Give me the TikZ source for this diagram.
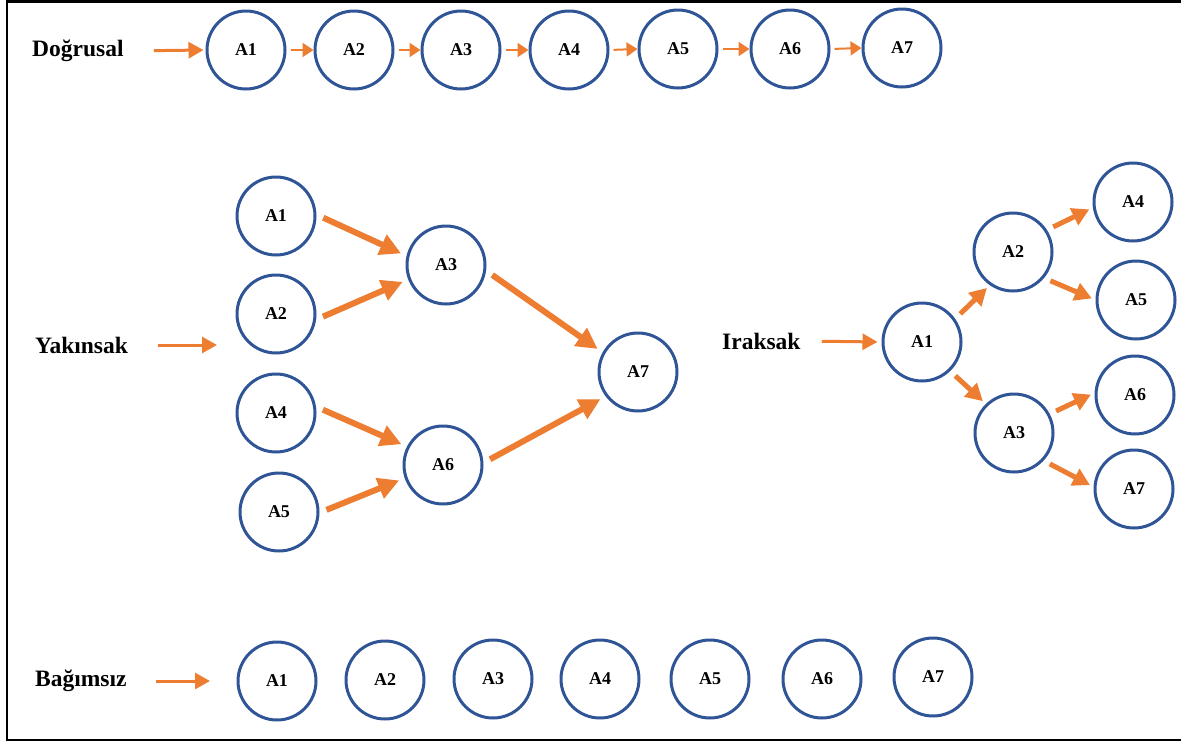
\documentclass[tikz,border=0pt]{standalone}
\usepackage{fontspec}
\setmainfont{Liberation Serif}
\usetikzlibrary{arrows.meta}
\definecolor{actblue}{HTML}{2F5597}
\definecolor{floworange}{HTML}{ED7D31}

\begin{document}
\begin{tikzpicture}[x=1pt,y=-1pt,
	act/.style={circle, draw=actblue, line width=3pt, minimum size=78pt, inner sep=0pt, font=\fontsize{18}{20}\selectfont\bfseries},
	kind/.style={anchor=west, inner sep=0pt, font=\fontsize{23.5}{26}\selectfont\bfseries},
	leadarrow/.style={color=floworange, line width=3pt, -{Triangle[length=15pt,width=16pt]}},
	smallarrow/.style={color=floworange, line width=2pt, -{Triangle[length=11pt,width=14pt]}, shorten <=4pt},
	bigarrow/.style={color=floworange, line width=6pt, -{Triangle[length=21pt,width=21pt]}, shorten <=7.5pt, shorten >=6pt},
	midarrow/.style={color=floworange, line width=5pt, -{Triangle[length=17pt,width=18pt]}, shorten <=7pt, shorten >=4pt}]

	\useasboundingbox (0,0) rectangle (1181,742);
	\draw[line width=2.5pt] (7,1.5) rectangle (1200,740);

	% Dogrusal
	\node (Dog)[kind] at (32,51) {Doğrusal};
	\node (D1)[act] at (246,50) {A1};
	\node (D2)[act] at (354,50) {A2};
	\node (D3)[act] at (461,50) {A3};
	\node (D4)[act] at (569,50) {A4};
	\node (D5)[act] at (678,49) {A5};
	\node (D6)[act] at (790,49) {A6};
	\node (D7)[act] at (902,48) {A7};

	% Yakinsak
	\node (Yak)[kind] at (35,345) {Yakınsak};
	\coordinate (Yin) at (217,345);
	\node (Y1)[act] at (276,216) {A1};
	\node (Y2)[act] at (276,314) {A2};
	\node (Y3)[act] at (446,265) {A3};
	\node (Y4)[act] at (276,413) {A4};
	\node (Y5)[act] at (279,512) {A5};
	\node (Y6)[act] at (443,465) {A6};
	\node (Y7)[act] at (638,372) {A7};

	% Iraksak
	\node (Irk)[kind] at (722,341) {Iraksak};
	\node (I1)[act] at (922,342) {A1};
	\node (I2)[act] at (1013,252) {A2};
	\node (I3)[act] at (1014,433) {A3};
	\node (I4)[act] at (1133,202) {A4};
	\node (I5)[act] at (1136,300) {A5};
	\node (I6)[act] at (1135,395) {A6};
	\node (I7)[act] at (1134,489) {A7};

	% Bagimsiz
	\node (Bag)[kind] at (35,681) {Bağımsız};
	\coordinate (Bin) at (210,681);
	\node (B1)[act] at (277,681) {A1};
	\node (B2)[act] at (385,680) {A2};
	\node (B3)[act] at (493,679) {A3};
	\node (B4)[act] at (600,679) {A4};
	\node (B5)[act] at (710,679) {A5};
	\node (B6)[act] at (822,679) {A6};
	\node (B7)[act] at (933,677) {A7};

	\draw [leadarrow, shorten <=30pt, shorten >=2pt] (Dog.east) to (D1.west);
	\draw [smallarrow] (D1.east) to (D2.west);
	\draw [smallarrow] (D2.east) to (D3.west);
	\draw [smallarrow] (D3.east) to (D4.west);
	\draw [smallarrow] (D4.east) to (D5.west);
	\draw [smallarrow] (D5.east) to (D6.west);
	\draw [smallarrow] (D6.east) to (D7.west);

	\draw [leadarrow, shorten <=30pt] (Yak.east) to (Yin);
	\draw [bigarrow] (Y1.2) to (Y3.167);
	\draw [bigarrow] (Y2.-8) to (Y3.201);
	\draw [bigarrow] (Y4.9) to (Y6.153);
	\draw [bigarrow] (Y5.-1) to (Y6.199);
	\draw [bigarrow] (Y3.-8) to (Y7.151);
	\draw [bigarrow] (Y6.3) to (Y7.217);

	\draw [leadarrow, shorten <=21pt, shorten >=4pt] (Irk.east) to (I1.west);
	\draw [midarrow] (I1.35) to (I2.235);
	\draw [midarrow] (I1.-46) to (I3.134);
	\draw [midarrow] (I2.33) to (I4.188);
	\draw [midarrow] (I2.-40) to (I5.180);
	\draw [midarrow] (I3.28) to (I6.177);
	\draw [midarrow] (I3.-43) to (I7.177);

	\draw [leadarrow, shorten <=29pt] (Bag.east) to (Bin);

\end{tikzpicture}
\end{document}
